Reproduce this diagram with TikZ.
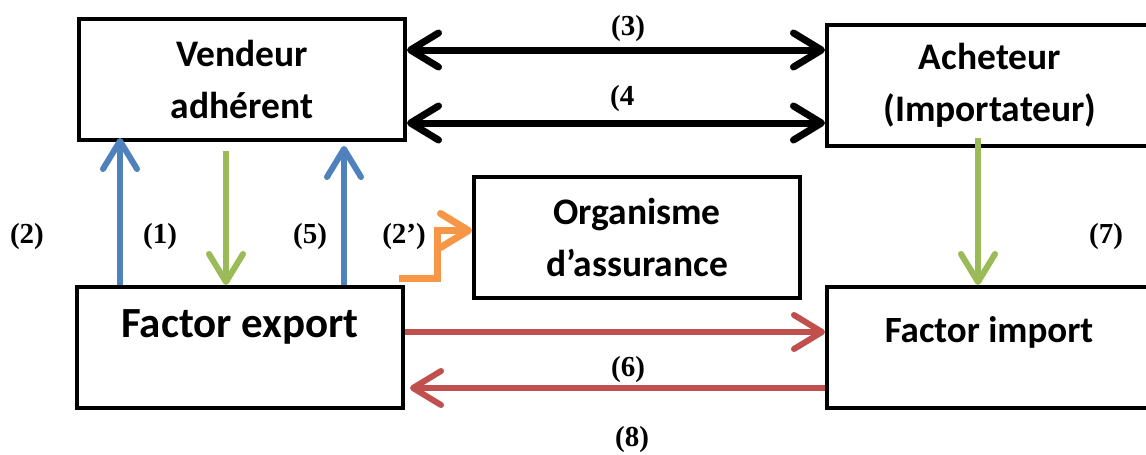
\documentclass[tikz,border=0pt]{standalone}
\usepackage{fontspec}
\setmainfont{Liberation Serif}
\newfontfamily\boxfont{Carlito}
\usetikzlibrary{arrows.meta,calc}

\definecolor{flowblue}{HTML}{4F81BD}
\definecolor{flowgreen}{HTML}{9BBB59}
\definecolor{flowred}{HTML}{C0504D}
\definecolor{floworange}{HTML}{F79646}

\tikzset{
  box/.style={draw=black, line width=4pt, rectangle, minimum width=326pt,
    minimum height=121pt, inner sep=0pt, align=center,
    font=\boxfont\bfseries\fontsize{37.5}{52}\selectfont},
  tag/.style={font=\bfseries\fontsize{29}{32}\selectfont, inner sep=0pt},
  barb/.tip={Straight Barb[length=28pt, width=34pt, line cap=round, line join=round]},
  blackflow/.style={line width=7pt, black, {barb}-{barb}},
  flow/.style={line width=6pt, -{barb}},
}

\begin{document}
\begin{tikzpicture}[x=1pt, y=-1pt]
  \useasboundingbox (0,0) rectangle (1146,455);
  \clip (0,0) rectangle (1146,455);

  % parties
  \node[box] (vend) at (242,79.5) {Vendeur\\adhérent};
  \node[box] (ach) at (990,85.5) {Acheteur\\(Importateur)};
  \node[box] (org) at (637,237.5) {Organisme\\d’assurance};
  \node[box] (fexp) at (240,347.5) {};
  \node[box] (fimp) at (990,347.5) {};
  \node[font=\boxfont\bfseries\fontsize{43}{50}\selectfont, inner sep=0pt]
    (fexptxt) at (240,327) {Factor export};
  \node[font=\boxfont\bfseries\fontsize{37}{44}\selectfont, inner sep=0pt]
    (fimptxt) at (989,332) {Factor import};

  % vendeur <-> acheteur
  \draw[blackflow] ([yshift=29.5pt]vend.east) -- ([yshift=35.5pt]ach.west);
  \draw[blackflow] ([yshift=-43.5pt]vend.east) -- ([yshift=-37.5pt]ach.west);

  % vendeur <-> factor export
  \draw[flow, flowblue] ([xshift=45pt]fexp.north west) -- ([xshift=43pt, yshift=4pt]vend.south west);
  \draw[flow, flowgreen] ([xshift=149pt, yshift=-9pt]vend.south west) -- ([xshift=151pt]fexp.north west);
  \draw[flow, flowblue] ([xshift=269pt]fexp.north west) -- ([xshift=267pt, yshift=-4pt]vend.south west);

  % factor export -> organisme d'assurance
  \draw[flow, floworange, line width=7pt, line join=miter]
    ([xshift=-6pt, yshift=7pt]fexp.north east) -- ++(38,0) |- ([yshift=7pt]org.west);

  % acheteur -> factor import
  \draw[flow, flowgreen] ([xshift=153pt, yshift=10pt]ach.south west) -- ([xshift=153pt]fimp.north west);

  % factor export <-> factor import
  \draw[flow, flowred] ([yshift=15.5pt]fexp.east) -- ([yshift=15.5pt]fimp.west);
  \draw[flow, flowred] ([yshift=-40.5pt]fimp.west) -- ([xshift=5pt, yshift=-40.5pt]fexp.east);

  % step numbers
  \node[tag] (t2) at (27,237) {(2)};
  \node[tag] (t1) at (160,237) {(1)};
  \node[tag] (t5) at (310,237) {(5)};
  \node[tag] (t2p) at (404,237) {(2’)};
  \node[tag] (t7) at (1106,237) {(7)};
  \node[tag] (t3) at (628,29) {(3)};
  \node[tag, anchor=west] (t4) at (610,99) {(4};
  \node[tag] (t6) at (628,370) {(6)};
  \node[tag] (t8) at (632,440) {(8)};
\end{tikzpicture}
\end{document}
